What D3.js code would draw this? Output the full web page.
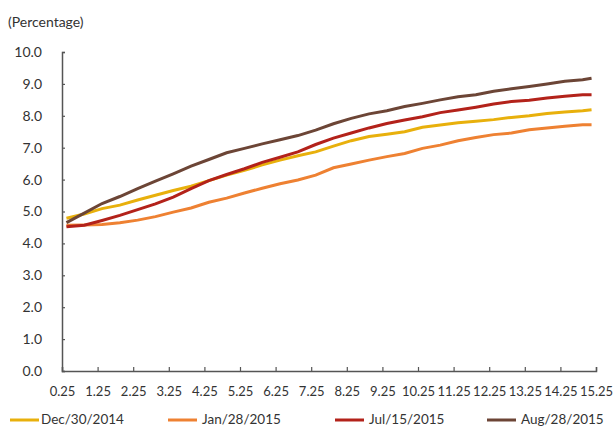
<!DOCTYPE html>
<html>
<head>
<meta charset="utf-8">
<script src="https://cdn.jsdelivr.net/npm/d3@7"></script>
<style>
  body { margin: 0; background: #fff; }
  svg text { font-family: Lato, "Open Sans", sans-serif; fill: #333; }
</style>
</head>
<body>
<svg width="613" height="428"></svg>
<script>
var svg = d3.select("svg");

// maturity (years) of each plotted point
var maturities = [0.375, 0.875, 1.375, 1.875, 2.375, 2.875, 3.375, 3.875, 4.375, 4.875,
                  5.375, 5.875, 6.375, 6.875, 7.375, 7.875, 8.375, 8.875, 9.375, 9.875,
                  10.375, 10.875, 11.375, 11.875, 12.375, 12.875, 13.375, 13.875, 14.375, 14.875, 15.125];
var xTicks = [0.25, 1.25, 2.25, 3.25, 4.25, 5.25, 6.25, 7.25, 8.25, 9.25, 10.25, 11.25, 12.25, 13.25, 14.25, 15.25];
var yTicks = [0, 1, 2, 3, 4, 5, 6, 7, 8, 9, 10];

var dec2014 = [4.79, 4.92, 5.09, 5.20, 5.36, 5.51, 5.66, 5.79, 5.97, 6.14, 6.29, 6.46, 6.61, 6.75, 6.87, 7.05,
               7.22, 7.35, 7.42, 7.50, 7.64, 7.71, 7.78, 7.83, 7.88, 7.95, 8.00, 8.07, 8.12, 8.16, 8.19];
var jan2015 = [4.57, 4.58, 4.59, 4.65, 4.73, 4.84, 4.98, 5.11, 5.29, 5.42, 5.58, 5.73, 5.87, 5.99, 6.14, 6.37,
               6.49, 6.61, 6.72, 6.82, 6.98, 7.08, 7.22, 7.32, 7.41, 7.46, 7.56, 7.62, 7.67, 7.72, 7.72];
var jul2015 = [4.52, 4.57, 4.72, 4.88, 5.06, 5.24, 5.45, 5.72, 5.97, 6.16, 6.34, 6.54, 6.70, 6.87, 7.10, 7.30,
               7.46, 7.62, 7.76, 7.87, 7.97, 8.10, 8.18, 8.27, 8.37, 8.45, 8.49, 8.56, 8.61, 8.66, 8.66];
var aug2015 = [4.65, 4.95, 5.25, 5.47, 5.72, 5.95, 6.18, 6.42, 6.63, 6.84, 6.98, 7.12, 7.25, 7.38, 7.55, 7.75,
               7.92, 8.06, 8.16, 8.29, 8.39, 8.50, 8.60, 8.66, 8.77, 8.85, 8.92, 9.00, 9.08, 9.13, 9.18];

var seriesNames = ["Dec/30/2014", "Jan/28/2015", "Jul/15/2015", "Aug/28/2015"];
var seriesValues = [dec2014, jan2015, jul2015, aug2015];
var colors = ["#e8b00c", "#ee8132", "#b3221a", "#6c4536"];

var plotLeft = 62, plotRight = 596, plotTop = 52, plotBottom = 371;

var x = d3.scaleLinear().domain([0.25, 15.25]).range([plotLeft, plotRight]);
var y = d3.scaleLinear().domain([0, 10]).range([plotBottom, plotTop]);

// y axis
var gY = svg.append("g").attr("transform", "translate(" + plotLeft + ",0)")
    .call(d3.axisRight(y).tickValues(yTicks).tickSize(3).tickFormat(d3.format(".1f")));
gY.selectAll("text").attr("x", -20).attr("text-anchor", "end").style("font-size", "14px");

// x axis
var gX = svg.append("g").attr("transform", "translate(0," + plotBottom + ")")
    .call(d3.axisTop(x).tickValues(xTicks).tickSize(4).tickFormat(function(d) { return d; }));
gX.selectAll("text").attr("y", 20).attr("dy", "0.35em").style("font-size", "13px");

svg.selectAll(".domain").attr("stroke", "#555").attr("stroke-width", 1.5);
svg.selectAll(".tick line").attr("stroke", "#555").attr("stroke-width", 1.2);

svg.append("text")
    .attr("x", 8).attr("y", 27)
    .style("font-size", "14px")
    .text("(Percentage)");

var line = d3.line()
    .x(function(d, i) { return x(maturities[i]); })
    .y(function(d) { return y(d); });

svg.selectAll(".series")
    .data(seriesValues)
    .enter()
    .append("path")
    .attr("class", "series")
    .attr("fill", "none")
    .attr("stroke", function(d, i) { return colors[i]; })
    .attr("stroke-width", 3)
    .attr("d", line);

// legend
var legendX = [10, 168, 335, 487];
var legend = svg.selectAll(".legend")
    .data(seriesNames)
    .enter()
    .append("g")
    .attr("class", "legend")
    .attr("transform", function(d, i) { return "translate(" + legendX[i] + ",420)"; });

legend.append("line")
    .attr("x1", 0).attr("x2", 29)
    .attr("stroke", function(d, i) { return colors[i]; })
    .attr("stroke-width", 3);

legend.append("text")
    .attr("x", function(d, i) { return i === 0 ? 31 : 34; })
    .attr("dy", "0.33em")
    .style("font-size", "13.5px")
    .text(function(d) { return d; });
</script>
</body>
</html>
